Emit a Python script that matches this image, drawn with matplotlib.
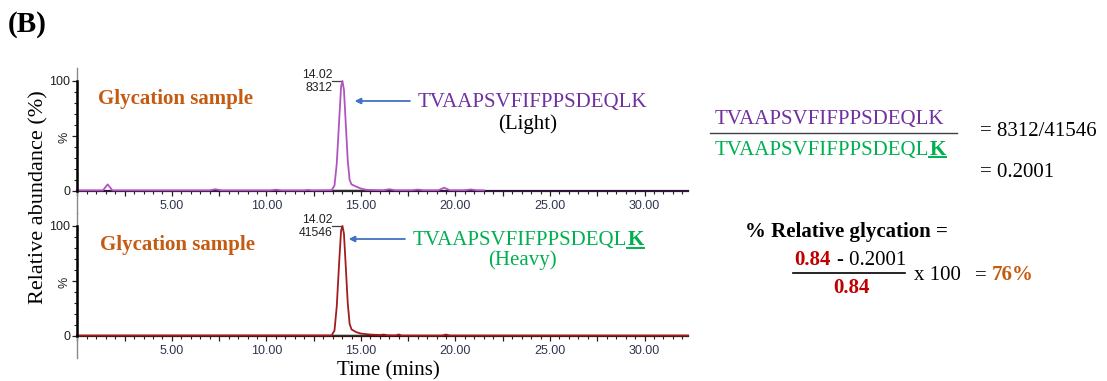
import numpy as np
import matplotlib.pyplot as plt
from matplotlib.ticker import FixedLocator, FuncFormatter
from matplotlib.lines import Line2D

plt.rcParams["font.family"] = "Liberation Serif"

# ---------------------------------------------------------------
# Extracted ion chromatograms (time in min, relative abundance %)
# ---------------------------------------------------------------
light_time = [0.0, 1.35, 1.6, 1.85, 7.0, 7.3, 7.6, 10.2, 10.5, 10.8, 12.0, 12.2, 12.4,
              13.45, 13.6, 13.72, 13.85, 13.95, 14.02, 14.1, 14.2, 14.3, 14.4, 14.5,
              14.75, 15.0, 15.3, 16.2, 16.5, 16.8, 17.7, 18.0, 18.3, 19.1, 19.4, 19.7,
              20.5, 20.8, 21.1, 21.5]
light_abund = [0.6, 0.6, 6.0, 0.6, 0.6, 1.6, 0.6, 0.6, 1.2, 0.6, 0.6, 1.0, 0.6,
               0.8, 5.0, 25.0, 65.0, 95.0, 100.0, 92.0, 60.0, 28.0, 10.0, 6.0,
               4.0, 2.2, 1.0, 0.7, 1.6, 0.7, 0.7, 1.3, 0.7, 0.7, 3.0, 0.7,
               0.7, 1.4, 0.7, 0.6]

heavy_time = [0.0, 13.45, 13.6, 13.72, 13.85, 13.95, 14.02, 14.1, 14.2, 14.3, 14.4,
              14.5, 14.75, 15.0, 15.5, 16.0, 16.2, 16.4, 16.85, 17.0, 17.15, 19.3,
              19.5, 19.7, 32.3]
heavy_abund = [0.5, 0.6, 5.0, 27.0, 68.0, 96.0, 100.0, 93.0, 62.0, 30.0, 11.0,
               6.0, 3.5, 2.2, 1.3, 0.9, 1.3, 0.7, 0.6, 1.4, 0.5, 0.5,
               1.3, 0.5, 0.5]

# integration baselines under the peaks
light_base = [13.5, 15.25]
heavy_base = [13.5, 15.25]

PEAK_RT = 14.02
LIGHT_AREA = 8312
HEAVY_AREA = 41546
REF_RATIO = 0.84

PEPTIDE = "TVAAPSVFIFPPSDEQLK"

ratio = LIGHT_AREA / HEAVY_AREA
rel_glycation = (REF_RATIO - round(ratio, 4)) / REF_RATIO * 100

X_MAX = 32.3
Y_MIN, Y_MAX = -20, 111.8

C_PURPLE = "#7030A0"
C_GREEN = "#00B050"
C_RED = "#C00000"
C_ORANGE = "#C55A11"
C_ARROW = "#4472C4"
C_LIGHT = "#B054C0"
C_HEAVY = "#A01E1E"

W, H = 1107, 381


def fx(px):
    return px / W


def fy(py):
    return 1 - py / H


fig = plt.figure(figsize=(W / 100, H / 100), dpi=100)
renderer = fig.canvas.get_renderer()


def tick_fmt(v, pos):
    if v > 0 and abs(v / 5 - round(v / 5)) < 1e-6:
        return f"{v:.2f}"
    return ""


def chrom_panel(top_px, times, abund, base, line_color, spine_color, area):
    ax = fig.add_axes([fx(77.4), fy(top_px + 145), fx(688 - 77.4), 145 / H])
    ax.plot(times, abund, color=line_color, lw=1.3, zorder=4, clip_on=False)
    ax.plot(base, [0.6, 0.6], color="#303030", lw=1.0, zorder=3)
    ax.set_xlim(0, X_MAX)
    ax.set_ylim(Y_MIN, Y_MAX)

    for s in ("top", "right"):
        ax.spines[s].set_visible(False)
    ax.spines["bottom"].set_position(("data", 0))
    ax.spines["bottom"].set_color(spine_color)
    ax.spines["bottom"].set_linewidth(1.6)
    ax.spines["left"].set_color("#8a8a8a")
    ax.spines["left"].set_linewidth(1.0)
    ax.plot([0, 0], [0, 100], color="black", lw=1.8, clip_on=False, zorder=5)

    ax.xaxis.set_major_locator(FixedLocator(np.arange(0, X_MAX, 2.5)))
    ax.xaxis.set_minor_locator(FixedLocator(np.arange(0, X_MAX, 0.5)))
    ax.xaxis.set_major_formatter(FuncFormatter(tick_fmt))
    ax.tick_params(axis="x", which="major", direction="out", length=3.8, width=0.9,
                   pad=3.0, colors="#202020", labelcolor="#2f3550", labelsize=9)
    ax.tick_params(axis="x", which="minor", direction="out", length=2.2, width=0.8,
                   colors="#202020")
    for lab in ax.get_xticklabels():
        lab.set_family("Liberation Sans")

    ax.yaxis.set_major_locator(FixedLocator([0, 50, 100]))
    ax.yaxis.set_minor_locator(FixedLocator(np.arange(10, 100, 10)))
    ax.set_yticklabels(["0", "%", "100"], family="Liberation Sans", fontsize=9)
    ax.get_yticklabels()[1].set_rotation(90)
    ax.get_yticklabels()[1].set_color("#5a3a3a")
    ax.tick_params(axis="y", which="major", direction="out", length=3.8, width=0.9,
                   pad=1.5, colors="#202020")
    ax.tick_params(axis="y", which="minor", direction="out", length=2.2, width=0.8,
                   colors="#202020")

    # apex label: retention time and area
    ax.plot([PEAK_RT - 0.55, PEAK_RT], [100, 100], color="#404040", lw=0.9)
    ax.annotate(f"{PEAK_RT:.2f}", xy=(PEAK_RT, 100), xytext=(-10, 3),
                textcoords="offset pixels", ha="right", va="baseline",
                family="Liberation Sans", fontsize=8.8, color="#222222")
    ax.annotate(f"{area}", xy=(PEAK_RT, 100), xytext=(-10, -10),
                textcoords="offset pixels", ha="right", va="baseline",
                family="Liberation Sans", fontsize=8.8, color="#222222")
    ax.patch.set_alpha(0)
    return ax


ax_light = chrom_panel(68, light_time, light_abund, light_base, C_LIGHT, "#2e1436", LIGHT_AREA)
ax_heavy = chrom_panel(213, heavy_time, heavy_abund, heavy_base, C_HEAVY, "#3a0c0c", HEAVY_AREA)


def runs(x, y, parts, size=15):
    """Draw consecutive text pieces on one baseline, return their artists."""
    arts = []
    for s, color, weight in parts:
        t = fig.text(fx(x), fy(y), s, color=color, fontweight=weight,
                     fontsize=size, ha="left", va="baseline")
        bb = t.get_window_extent(renderer)
        x = bb.x1
        arts.append(t)
    return arts


def underline(t, y, color, lw=1.4):
    bb = t.get_window_extent(renderer)
    fig.add_artist(Line2D([fx(bb.x0), fx(bb.x1)], [fy(y), fy(y)], color=color, lw=lw))


def hline(x0, x1, y, color="black", lw=1.0):
    fig.add_artist(Line2D([fx(x0), fx(x1)], [fy(y), fy(y)], color=color, lw=lw))


def arrow(x_tail, x_head, y):
    fig.add_artist(plt.annotate("", xy=(fx(x_head), fy(y)), xytext=(fx(x_tail), fy(y)),
                                xycoords="figure fraction", textcoords="figure fraction",
                                arrowprops=dict(arrowstyle="-|>", color=C_ARROW, lw=1.0,
                                                mutation_scale=9, shrinkA=0, shrinkB=0)))


# panel letter and axis titles
fig.text(fx(8), fy(32), "(B)", fontsize=21, fontweight="bold", ha="left", va="baseline")
fig.text(fx(39), fy(197), "Relative abundance (%)", fontsize=16, rotation=90,
         ha="center", va="center")
fig.text(fx(388), fy(375), "Time (mins)", fontsize=15, ha="center", va="baseline")

# sample labels
fig.text(fx(98), fy(104), "Glycation sample", fontsize=15, fontweight="bold",
         color=C_ORANGE, ha="left", va="baseline")
fig.text(fx(100), fy(250), "Glycation sample", fontsize=15, fontweight="bold",
         color=C_ORANGE, ha="left", va="baseline")

# peptide labels next to the peaks
runs(418, 107, [(PEPTIDE, C_PURPLE, "normal")])
fig.text(fx(528), fy(129), "(Light)", fontsize=15, ha="center", va="baseline")
arrow(410, 355, 101)

pk = runs(413, 245, [(PEPTIDE[:-1], C_GREEN, "normal"), (PEPTIDE[-1], C_GREEN, "bold")])
underline(pk[1], 248, C_GREEN)
fig.text(fx(522), fy(265), "(Heavy)", fontsize=15, color=C_GREEN, ha="center", va="baseline")
arrow(405, 349, 239)

# light / heavy ratio
runs(715, 124, [(PEPTIDE, C_PURPLE, "normal")])
hline(710, 957, 133, color="#404040", lw=1.0)
fr = runs(715, 155, [(PEPTIDE[:-1], C_GREEN, "normal"), (PEPTIDE[-1], C_GREEN, "bold")])
underline(fr[1], 157.5, C_GREEN)
fig.text(fx(980), fy(136), f"= {LIGHT_AREA}/{HEAVY_AREA}", fontsize=15,
         ha="left", va="baseline")
fig.text(fx(980), fy(177), f"= {ratio:.4f}", fontsize=15, ha="left", va="baseline")

# relative glycation
fig.text(fx(745), fy(237), "% Relative glycation =", fontsize=15, fontweight="bold",
         ha="left", va="baseline")
fig.text(fx(794), fy(265), f"{REF_RATIO:.2f}", fontsize=15, fontweight="bold",
         color=C_RED, ha="left", va="baseline")
fig.text(fx(837), fy(265), f"- {ratio:.4f}", fontsize=15, ha="left", va="baseline")
hline(793, 905, 273, lw=1.2)
fig.text(fx(851), fy(293), f"{REF_RATIO:.2f}", fontsize=15, fontweight="bold",
         color=C_RED, ha="center", va="baseline")
fig.text(fx(914), fy(280), "x 100", fontsize=15, ha="left", va="baseline")
fig.text(fx(975), fy(280), "=", fontsize=15, ha="left", va="baseline")
fig.text(fx(992), fy(280), f"{rel_glycation:.0f}%", fontsize=15, fontweight="bold",
         color=C_ORANGE, ha="left", va="baseline")

fig.savefig("out.png", dpi=100)
